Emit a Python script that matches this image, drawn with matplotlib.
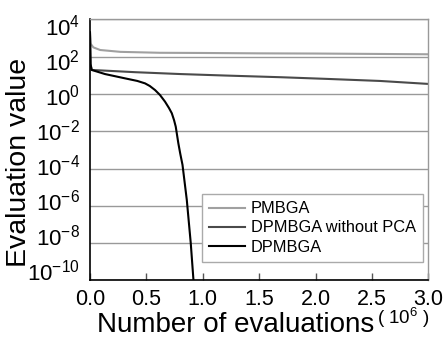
import matplotlib
matplotlib.use("Agg")
import matplotlib.pyplot as plt
from matplotlib.transforms import ScaledTranslation
import numpy as np

plt.rcParams['font.family'] = ['Liberation Sans', 'DejaVu Sans']
plt.rcParams['mathtext.default'] = 'regular'
plt.rcParams['axes.unicode_minus'] = False

# values: x in 10^6 evaluations, y as log10 of evaluation value
pmbgaX = [0.0, 0.005, 0.03, 0.09, 0.27, 0.62, 1.0, 1.5, 2.0, 2.5, 3.0]
pmbgaLog = [3.3, 2.7, 2.5, 2.36, 2.26, 2.21, 2.2, 2.18, 2.17, 2.15, 2.13]

noPcaX = [0.0, 0.005, 0.015, 0.4, 0.8, 1.2, 1.69, 2.1, 2.57, 3.0]
noPcaLog = [3.3, 1.6, 1.29, 1.17, 1.07, 0.99, 0.9, 0.81, 0.7, 0.54]

dpmbgaX = [0.0, 0.005, 0.015, 0.133, 0.31, 0.42, 0.488, 0.53, 0.577, 0.62, 0.665,
           0.70, 0.725, 0.745, 0.76, 0.783, 0.80, 0.82, 0.858, 0.893, 0.917]
dpmbgaLog = [3.3, 1.6, 1.29, 1.07, 0.84, 0.7, 0.57, 0.43, 0.21, -0.05, -0.41,
             -0.75, -1.03, -1.4, -1.75, -2.64, -3.2, -3.8, -5.68, -7.99, -9.97]

xTicks = [0.0, 0.5, 1.0, 1.5, 2.0, 2.5, 3.0]
yExponents = [4, 2, 0, -2, -4, -6, -8, -10]

fig = plt.figure(figsize=(4.45, 3.51), dpi=100)
ax = fig.add_axes([0.2022, 0.2009, 0.7607, 0.7438])

ax.plot(pmbgaX, 10.0 ** np.array(pmbgaLog), color="#a0a0a0", lw=1.5, label="PMBGA")
ax.plot(noPcaX, 10.0 ** np.array(noPcaLog), color="#4a4a4a", lw=1.5, label="DPMBGA without PCA")
ax.plot(dpmbgaX, 10.0 ** np.array(dpmbgaLog), color="black", lw=1.5, label="DPMBGA")

ax.set_yscale("log")
ax.set_xlim(0, 3.0)
ax.set_ylim(1e-10, 1e4)
ax.set_yticks([10.0 ** e for e in yExponents])
ax.set_yticklabels(["$10^{%d}$" % e for e in yExponents])
ax.yaxis.set_minor_locator(matplotlib.ticker.NullLocator())
ax.set_xticks(xTicks)
ax.set_xticklabels(["%.1f" % t for t in xTicks])

ax.tick_params(axis="x", direction="in", length=5, width=1, labelsize=15.5, pad=6, color="#555555")
ax.tick_params(axis="y", length=0, labelsize=16, pad=7)

ax.grid(axis="y", color="#999999", lw=1)
ax.set_axisbelow(True)
for side in ["top", "right"]:
    ax.spines[side].set_color("#999999")
    ax.spines[side].set_linewidth(1)
for side in ["left", "bottom"]:
    ax.spines[side].set_color("black")
    ax.spines[side].set_linewidth(1.2)

fig.text(0.042, 0.537, "Evaluation value", fontsize=20.5, rotation=90, ha="center", va="center")
fig.text(0.53, 0.054, "Number of evaluations", fontsize=20, ha="center", va="baseline")
fig.text(0.847, 0.077, "( $10^{6}$ )", fontsize=13.5, ha="left", va="baseline")

leg = ax.legend(loc="lower right", bbox_to_anchor=(0.984, 0.071), borderaxespad=0, fontsize=11.8,
                frameon=True, fancybox=False, framealpha=1, edgecolor="#aaaaaa",
                handlelength=2.2, handletextpad=0.35, borderpad=0.45, labelspacing=0.25)
leg.get_frame().set_linewidth(1)

# the y labels in the original sit slightly off the gridlines, spread a bit tighter
fig.canvas.draw()
for tick in ax.yaxis.get_major_ticks():
    k = (4 - np.log10(tick.get_loc())) / 2
    dy = 5.4 - 2.2 * k
    tick.label1.set_transform(tick.label1.get_transform() + ScaledTranslation(0, -dy / 100, fig.dpi_scale_trans))

fig.savefig("out.png", dpi=100)
